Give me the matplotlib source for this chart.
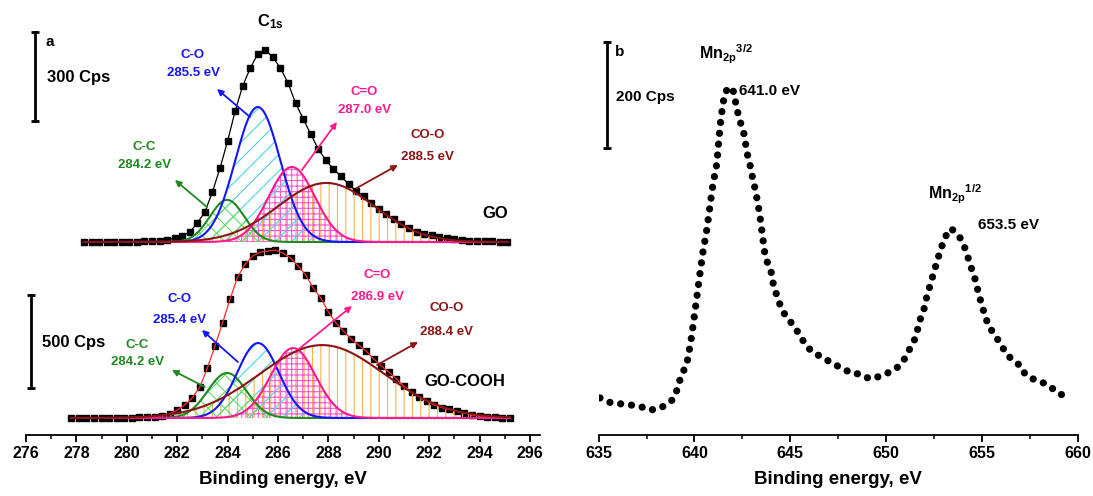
import numpy as np
import matplotlib
matplotlib.use("Agg")
import matplotlib.pyplot as plt
from matplotlib.ticker import MultipleLocator

plt.rcParams['font.family'] = ['Liberation Sans', 'DejaVu Sans']
plt.rcParams['font.weight'] = 'bold'
plt.rcParams['axes.labelweight'] = 'bold'
plt.rcParams['mathtext.fontset'] = 'custom'
plt.rcParams['mathtext.rm'] = 'Liberation Sans:bold'
plt.rcParams['mathtext.it'] = 'Liberation Sans:bold'
plt.rcParams['mathtext.bf'] = 'Liberation Sans:bold'
plt.rcParams['hatch.linewidth'] = 0.8

# ---- panel a: C1s spectra (counts per second) ----
go_energy = [278.3, 278.6, 278.9, 279.2, 279.5, 279.8, 280.1, 280.4, 280.7, 281.0,
             281.3, 281.6, 281.9, 282.2, 282.5, 282.8, 283.1, 283.4, 283.7, 284.0,
             284.3, 284.6, 284.9, 285.2, 285.5, 285.8, 286.1, 286.4, 286.7, 287.0,
             287.3, 287.6, 287.9, 288.2, 288.5, 288.8, 289.1, 289.4, 289.7, 290.0,
             290.3, 290.6, 290.9, 291.2, 291.5, 291.8, 292.1, 292.4, 292.7, 293.0,
             293.3, 293.6, 293.9, 294.2, 294.5, 294.8, 295.1]
go_counts = [0, 0, 0, 0, 0, 0, 0, 0, 2, 2,
             3, 8, 13, 20, 34, 64, 101, 169, 249, 340,
             441, 526, 586, 634, 647, 623, 586, 536, 468, 415,
             364, 313, 276, 246, 222, 195, 172, 155, 131, 111,
             94, 78, 61, 47, 34, 27, 22, 17, 13, 11,
             8, 5, 3, 2, 2, 1, 0]

cooh_energy = [277.8, 278.1, 278.4, 278.7, 279.0, 279.3, 279.6, 279.9, 280.2, 280.5,
               280.8, 281.1, 281.4, 281.7, 282.0, 282.3, 282.6, 282.9, 283.2, 283.5,
               283.8, 284.1, 284.4, 284.7, 285.0, 285.3, 285.6, 285.9, 286.2, 286.5,
               286.8, 287.1, 287.4, 287.7, 288.0, 288.3, 288.6, 288.9, 289.2, 289.5,
               289.8, 290.1, 290.4, 290.7, 291.0, 291.3, 291.6, 291.9, 292.2, 292.5,
               292.8, 293.1, 293.4, 293.7, 294.0, 294.3, 294.6, 294.9, 295.2]
cooh_counts = [0, 0, 0, 0, 0, 0, 0, 0, 0, 3,
               3, 5, 11, 22, 43, 70, 108, 167, 269, 387,
               511, 640, 758, 828, 871, 892, 898, 903, 887, 860,
               817, 769, 699, 645, 570, 511, 468, 425, 392, 360,
               317, 280, 247, 210, 172, 140, 113, 91, 70, 56,
               46, 35, 27, 16, 11, 6, 3, 1, 0]

peak_names = ['C-C', 'C-O', 'C=O', 'CO-O']
go_peak_labels = ['284.2 eV', '285.5 eV', '287.0 eV', '288.5 eV']
cooh_peak_labels = ['284.2 eV', '285.4 eV', '286.9 eV', '288.4 eV']
# fitted components: centre (eV), height (Cps), FWHM (eV)
go_centers = [283.98, 285.2, 286.55, 287.92]
go_heights = [142, 455, 253, 199]
go_fwhm = [1.6, 2.1, 2.15, 4.5]
cooh_centers = [283.98, 285.21, 286.6, 287.75]
cooh_heights = [242, 403, 376, 392]
cooh_fwhm = [1.8, 1.95, 2.1, 5.8]

# ---- panel b: Mn 2p spectrum ----
mn_energy = [635.07, 635.69, 636.47, 637.24, 637.65, 638.07, 638.43, 638.84, 639.05, 639.20,
             639.41, 639.62, 639.82, 639.98, 640.13, 640.29, 640.44, 640.65, 640.80, 640.96,
             641.17, 641.27, 641.37, 641.48, 641.58, 641.73, 641.89, 642.05, 642.20, 642.36,
             642.56, 642.77, 642.92, 643.03, 643.18, 643.39, 643.49, 643.65, 643.80, 644.01,
             644.11, 644.32, 644.52, 644.78, 645.14, 645.45, 645.76, 646.13, 646.54, 646.85,
             647.21, 647.47, 647.78, 648.14, 648.61, 649.02, 649.33, 649.64, 649.95, 650.31,
             650.67, 650.98, 651.19, 651.45, 651.60, 651.76, 651.96, 652.07, 652.22, 652.38,
             652.53, 652.69, 652.84, 653.05, 653.25, 653.41, 653.82, 654.08, 654.29, 654.49,
             654.70, 654.80, 655.01, 655.16, 655.37, 655.73, 655.99, 656.30, 656.66, 657.08,
             657.23, 657.64, 657.95, 658.21, 658.57, 658.93, 659.24, 659.50]
mn_counts = [70, 60, 58, 53, 47, 49, 55, 66, 81, 100,
             119, 138, 179, 221, 262, 306, 345, 389, 430, 472,
             513, 557, 594, 623, 645, 653, 657, 647, 617, 594,
             572, 528, 506, 485, 462, 419, 392, 347, 326, 306,
             285, 260, 240, 223, 208, 191, 172, 157, 149, 142,
             136, 130, 125, 117, 115, 108, 106, 111, 115, 121,
             130, 145, 160, 177, 194, 217, 236, 255, 274, 294,
             313, 332, 351, 370, 387, 389, 374, 355, 332, 309,
             287, 268, 243, 223, 204, 185, 170, 151, 140, 128,
             115, 106, 102, 98, 91, 79, 75, 79]

edge_cols = ['#1f8a1f', '#1414ff', '#ff1a8c', '#8b1414']
hatch_cols = ['#66dd66', '#4dd2e6', '#ff5ac8', '#ffb04d']
hatches = ['xx', '//', '+++', '||']


def gauss(e, c, h, w):
    return h * np.exp(-4 * np.log(2) * (e - c) ** 2 / w ** 2)


fig = plt.figure(figsize=(10.93, 4.96), dpi=100)
axa = fig.add_axes([26 / 1093, 61 / 496, 514 / 1093, 425 / 496])
axb = fig.add_axes([598.6 / 1093, 61 / 496, 479.4 / 1093, 425 / 496])

# panel a: two stacked spectra, each with its own Cps scale
spectra = [
    (go_energy, go_counts, go_centers, go_heights, go_fwhm, 193, 89 / 300, 'black'),
    (cooh_energy, cooh_counts, cooh_centers, cooh_heights, cooh_fwhm, 17, 93 / 500, '#ff2a2a'),
]
for energy, counts, centers, heights, fwhm, off, s, line_col in spectra:
    e = np.array(energy)
    y = off + np.array(counts) * s
    axa.plot(e, y, 's', color='black', ms=5, zorder=2)
    axa.plot(e, y, color=line_col, lw=0.9, zorder=2.5)
    fine = np.linspace(e[0], e[-1], 600)
    comps = [off + gauss(fine, c, h, w) * s for c, h, w in zip(centers, heights, fwhm)]
    for comp, hc, ht in zip(comps[::-1], hatch_cols[::-1], hatches[::-1]):
        axa.fill_between(fine, off, comp, facecolor='none', edgecolor=hc,
                         hatch=ht, lw=0, zorder=3)
    for comp, ec in zip(comps, edge_cols):
        axa.plot(fine, comp, color=ec, lw=1.5, zorder=4)

# labels and arrows
go_text = [(280.70, 288, 270), (282.63, 380, 362), (289.43, 343, 325), (291.93, 300, 278)]
go_arrows = [((283.18, 228), (281.91, 255)), ((284.89, 318), (283.58, 346)),
             ((286.95, 265), (288.34, 313)), ((289.13, 247), (290.76, 270))]
cooh_text = [(280.42, 90, 73), (282.11, 136, 115), (289.95, 160, 138), (292.69, 127, 103)]
cooh_arrows = [((283.10, 48), (281.79, 65)), ((284.41, 73), (282.98, 105)),
               ((286.83, 86), (288.94, 129)), ((289.93, 70), (291.56, 93))]

for texts, arrows, vals in [(go_text, go_arrows, go_peak_labels),
                            (cooh_text, cooh_arrows, cooh_peak_labels)]:
    for (tx, ty1, ty2), (tail, head), name, val, ec in zip(texts, arrows, peak_names, vals, edge_cols):
        axa.text(tx, ty1, name, color=ec, fontsize=9.5, ha='center', va='center')
        axa.text(tx, ty2, val, color=ec, fontsize=9.5, ha='center', va='center')
        axa.annotate('', xy=head, xytext=tail,
                     arrowprops=dict(arrowstyle='-|>', color=ec, lw=1.3,
                                     mutation_scale=9, shrinkA=0, shrinkB=0), zorder=5)

axa.text(294.61, 222, 'GO', fontsize=12, ha='center', va='center')
axa.text(293.42, 53, 'GO-COOH', fontsize=12, ha='center', va='center')
axa.text(285.68, 413, 'C$_{1s}$', fontsize=12, ha='center', va='center')
axa.text(276.79, 393, 'a', fontsize=11, ha='left', va='center')
axa.text(276.83, 358, '300 Cps', fontsize=12, ha='left', va='center')
axa.text(276.63, 93, '500 Cps', fontsize=12, ha='left', va='center')

# scale bars
axa.plot([276.36, 276.36], [314, 314 + 300 * 89 / 300], color='black', lw=2,
         marker='_', ms=6, mew=2, clip_on=False)
axa.plot([276.2, 276.2], [47, 47 + 500 * 93 / 500], color='black', lw=2,
         marker='_', ms=6, mew=2, clip_on=False)

axa.set_xlim(276, 296.4)
axa.set_ylim(0, 425)

# panel b
axb.plot(mn_energy, mn_counts, color='black', lw=5.2, linestyle=(0, (0.01, 1.5)),
         dash_capstyle='round')
axb.plot([635.43, 635.43], [542, 742], color='black', lw=2, marker='_', ms=6, mew=2)
axb.text(635.85, 723, 'b', fontsize=11, ha='left', va='center')
axb.text(635.90, 638, '200 Cps', fontsize=11, ha='left', va='center')
axb.text(640.24, 709, 'Mn$_{2p}$$^{3/2}$', fontsize=11.5, ha='left', va='baseline')
axb.text(642.31, 649, '641.0 eV', fontsize=11, ha='left', va='center')
axb.text(652.17, 445, 'Mn$_{2p}$$^{1/2}$', fontsize=11.5, ha='left', va='baseline')
axb.text(654.80, 396, '653.5 eV', fontsize=11, ha='left', va='center')
axb.set_xlim(635, 660)
axb.set_ylim(0, 802)

for ax, major, minor in [(axa, 2, 1), (axb, 5, 2.5)]:
    for side in ['left', 'right', 'top']:
        ax.spines[side].set_visible(False)
    ax.spines['bottom'].set_linewidth(1.3)
    ax.set_yticks([])
    ax.xaxis.set_major_locator(MultipleLocator(major))
    ax.xaxis.set_minor_locator(MultipleLocator(minor))
    ax.tick_params(axis='x', which='major', direction='out', length=5, width=1.3,
                   labelsize=11.5, pad=3)
    ax.tick_params(axis='x', which='minor', direction='out', length=3, width=1.1)
    ax.set_xlabel('Binding energy, eV', fontsize=13.5, fontweight='bold', labelpad=7)
    ax.patch.set_visible(False)

fig.savefig('out.png', dpi=100)
